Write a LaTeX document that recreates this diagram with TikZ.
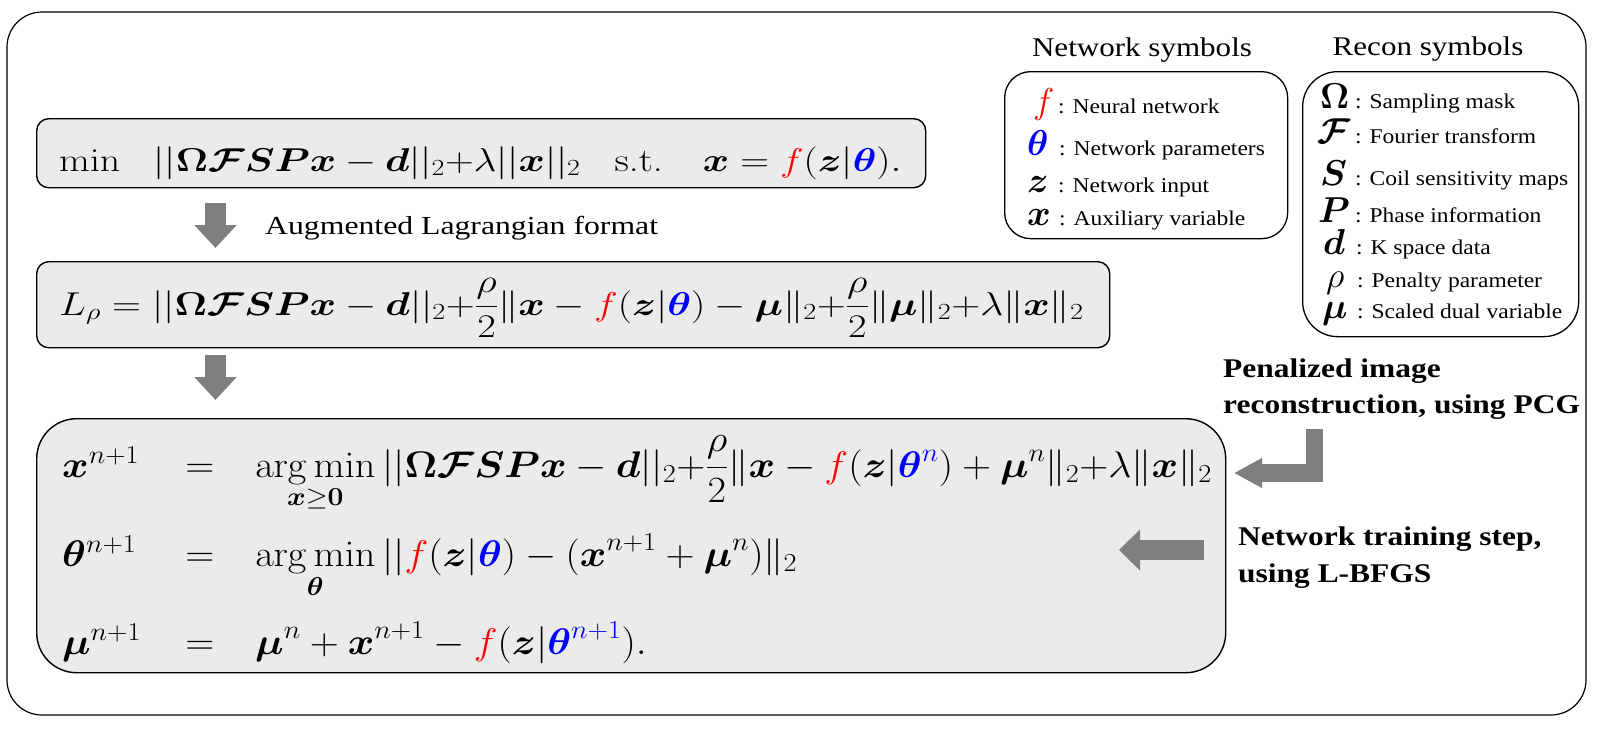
\RequirePackage{fix-cm}
\documentclass[tikz,border=0pt]{standalone}
\usepackage[no-math]{fontspec}
\usepackage{amsmath,bm,graphicx}
\usetikzlibrary{arrows.meta}
\newfontfamily\tnr{Liberation Serif}
\definecolor{boxgray}{HTML}{EBEBEB}
\definecolor{arrowgray}{HTML}{7F7F7F}
\newcommand{\hx}[2]{\scalebox{#1}[1]{#2}}
\newcommand{\rf}{\textcolor{red}{f}}
\begin{document}
\begin{tikzpicture}[x=1pt,y=-1pt,
  outerframe/.style={draw=black, line width=1.2pt, rounded corners=35pt},
  gbox/.style={draw=black, line width=1.4pt, fill=boxgray, rounded corners=12pt, inner sep=0pt, anchor=north west},
  lbox/.style={draw=black, line width=1.3pt, fill=white, inner sep=0pt, anchor=north west},
  eqa/.style={inner sep=0pt, anchor=base west, font=\fontsize{33}{40}\selectfont},
  eqb/.style={inner sep=0pt, font=\fontsize{37}{44}\selectfont},
  ttl/.style={inner sep=0pt, anchor=base, font=\tnr\fontsize{27}{32}\selectfont},
  sym/.style={inner sep=0pt, anchor=base west, font=\fontsize{36}{42}\selectfont},
  lab/.style={inner sep=0pt, anchor=base west, font=\tnr\fontsize{21}{25}\selectfont},
  bold/.style={inner sep=0pt, anchor=base west, font=\tnr\bfseries\fontsize{27}{32}\selectfont},
  plain/.style={inner sep=0pt, anchor=base west, font=\tnr\fontsize{26}{31}\selectfont},
  downarrow/.style={draw=arrowgray, line width=21pt, -{Triangle[width=41pt,length=23pt]}},
]
\useasboundingbox (0,0) rectangle (1597,729);
\draw[outerframe] (7,12) rectangle (1586,715);

% boxes
\node[gbox, minimum width=889pt, minimum height=69pt] (obj) at (36,118) {};
\node[gbox, minimum width=1073pt, minimum height=86pt] (lag) at (36,261) {};
\node[gbox, rounded corners=40pt, minimum width=1189pt, minimum height=254pt] (upd) at (36,418) {};
\node[lbox, rounded corners=26pt, minimum width=283pt, minimum height=167pt] (netbox) at (1004,71) {};
\node[lbox, rounded corners=35pt, minimum width=276pt, minimum height=265pt] (recbox) at (1302,71) {};

% formulas
\node[eqa] (objeq) at (59,171) {\hx{1.21}{$\displaystyle \min\hspace{22pt}||\bm{\Omega}\bm{\mathcal{F}}\bm{S}\bm{P}\bm{x}-\bm{d}||_2{+}\lambda||\bm{x}||_2\hspace{28pt}\text{s.t.}\hspace{33pt} \bm{x}=\rf(\bm{z}|\textcolor{blue}{\bm{\theta}}).$}};
\node[eqa] (lageq) at (59,315) {\hx{1.22}{$\displaystyle L_\rho=||\bm{\Omega}\bm{\mathcal{F}}\bm{S}\bm{P}\bm{x}-\bm{d}||_2{+}\frac{\rho}{2}\|\bm{x}-\rf(\bm{z}|\textcolor{blue}{\bm{\theta}})-\bm{\mu}\|_2{+}\frac{\rho}{2}\|\bm{\mu}\|_2{+}\lambda\|\bm{x}\|_2$}};

\node[eqb, anchor=base west] (l1) at (62,477) {\hx{1.09}{$\bm{x}^{n+1}$}};
\node[eqb, anchor=base] (e1) at (200,477) {\hx{1.09}{$=$}};
\node[eqb, anchor=base west] (r1) at (255,477) {\hx{1.09}{$\displaystyle \operatorname*{arg\,min}_{\bm{x}\geq\mathbf{0}}||\bm{\Omega}\bm{\mathcal{F}}\bm{S}\bm{P}\bm{x}-\bm{d}||_2{+}\frac{\rho}{2}\|\bm{x}-\rf(\bm{z}|\textcolor{blue}{\bm{\theta}^n})+\bm{\mu}^n\|_2{+}\lambda\|\bm{x}\|_2$}};
\node[eqb, anchor=base west] (l2) at (62,566) {\hx{1.09}{$\bm{\theta}^{n+1}$}};
\node[eqb, anchor=base] (e2) at (200,566) {\hx{1.09}{$=$}};
\node[eqb, anchor=base west] (r2) at (255,566) {\hx{1.09}{$\displaystyle \operatorname*{arg\,min}_{\bm{\theta}}||\rf(\bm{z}|\textcolor{blue}{\bm{\theta}})-(\bm{x}^{n+1}+\bm{\mu}^n)\|_2$}};
\node[eqb, anchor=base west] (l3) at (62,654) {\hx{1.09}{$\bm{\mu}^{n+1}$}};
\node[eqb, anchor=base] (e3) at (200,654) {\hx{1.09}{$=$}};
\node[eqb, anchor=base west] (r3) at (255,654) {\hx{1.09}{$\displaystyle \bm{\mu}^n+\bm{x}^{n+1}-\rf(\bm{z}|\textcolor{blue}{\bm{\theta}^{n+1}}).$}};

% texts
\node[plain] (augtxt) at (265,234) {\hx{1.22}{Augmented Lagrangian format}};
\node[bold] (pen1) at (1223,377) {\hx{1.165}{Penalized image}};
\node[bold] (pen2) at (1223,413) {\hx{1.165}{reconstruction, using PCG}};
\node[bold] (net1) at (1238,545) {\hx{1.165}{Network training step,}};
\node[bold] (net2) at (1238,582) {\hx{1.165}{using L-BFGS}};

% legend titles
\node[ttl] (nettitle) at (1142,56) {\hx{1.15}{Network symbols}};
\node[ttl] (rectitle) at (1428,55) {\hx{1.15}{Recon symbols}};

% network legend
\node[sym] (sf) at (1033,113) {$\textcolor{red}{f}$};
\node[lab] (tf) at (1058,113) {\hx{1.12}{: Neural network}};
\node[sym] (st) at (1027,155) {$\textcolor{blue}{\bm{\theta}}$};
\node[lab] (tt) at (1059,155) {\hx{1.12}{: Network parameters}};
\node[sym] (sz) at (1027,192) {$\bm{z}$};
\node[lab] (tz) at (1058,192) {\hx{1.12}{: Network input}};
\node[sym] (sx) at (1027,225) {$\bm{x}$};
\node[lab] (tx) at (1059,225) {\hx{1.12}{: Auxiliary variable}};

% recon legend
\node[sym] (sO) at (1320,108) {$\bm{\Omega}$};
\node[lab] (tO) at (1355,108) {\hx{1.12}{: Sampling mask}};
\node[sym] (sF) at (1317,143) {$\bm{\mathcal{F}}$};
\node[lab] (tF) at (1355,143) {\hx{1.12}{: Fourier transform}};
\node[sym] (sS) at (1320,185) {$\bm{S}$};
\node[lab] (tS) at (1355,185) {\hx{1.12}{: Coil sensitivity maps}};
\node[sym] (sP) at (1318,222) {$\bm{P}$};
\node[lab] (tP) at (1355,222) {\hx{1.12}{: Phase information}};
\node[sym] (sd) at (1323,254) {$\bm{d}$};
\node[lab] (td) at (1356,254) {\hx{1.12}{: K space data}};
\node[sym] (sr) at (1326,287) {$\rho$};
\node[lab] (tr) at (1357,287) {\hx{1.12}{: Penalty parameter}};
\node[sym] (sm) at (1322,318) {$\bm{\mu}$};
\node[lab] (tm) at (1357,318) {\hx{1.12}{: Scaled dual variable}};

% arrows
\coordinate (d1s) at (215.5,203);
\coordinate (d1e) at (215.5,248);
\coordinate (d2s) at (215.5,355);
\coordinate (d2e) at (215.5,400);
\coordinate (ls) at (1314.5,429);
\coordinate (le) at (1234,473);
\coordinate (ns) at (1204,550);
\coordinate (ne) at (1119,550);
\draw[downarrow] (d1s) -- (d1e);
\draw[downarrow] (d2s) -- (d2e);
\draw[draw=arrowgray, line width=17.5pt, -{Triangle[width=28pt,length=28pt]}] (ls) |- (le);
\draw[draw=arrowgray, line width=20pt, -{Triangle[width=40pt,length=21pt]}] (ns) -- (ne);
\end{tikzpicture}
\end{document}
